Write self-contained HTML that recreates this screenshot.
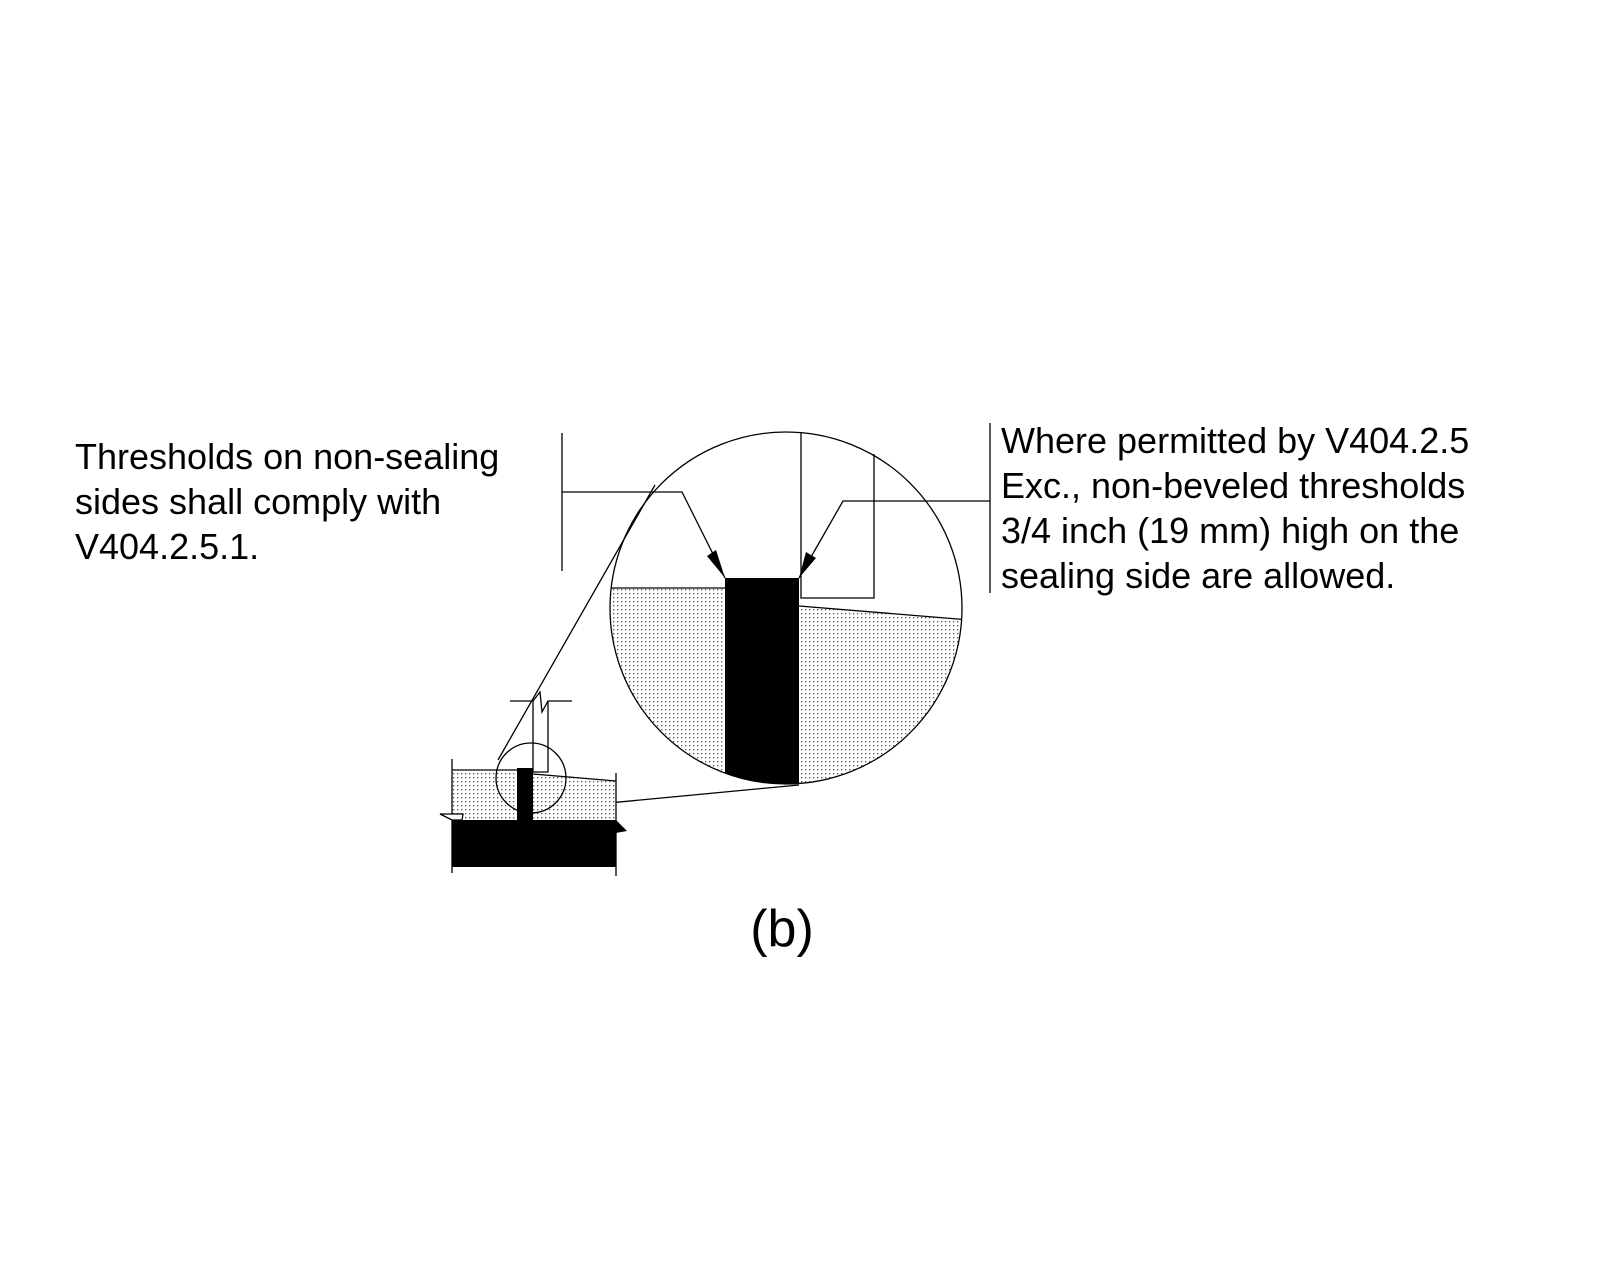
<!DOCTYPE html>
<html><head><style>
body{margin:0;background:#fff}
svg{display:block}
text{font-family:"Liberation Sans",Arial,sans-serif;fill:#000}
</style></head><body>
<svg width="1600" height="1280" viewBox="0 0 1600 1280">
<defs>
<pattern id="d" width="4" height="4" patternUnits="userSpaceOnUse"><rect width="4" height="4" fill="#fff"/><rect x="1" y="1" width="1.3" height="1.3" fill="#555"/></pattern>
<clipPath id="c"><circle cx="786" cy="608" r="176"/></clipPath>
</defs>
<g clip-path="url(#c)">
<rect x="600" y="588" width="125" height="210" fill="url(#d)"/>
<polygon points="799,606 970,620 970,800 799,800" fill="url(#d)"/>
<rect x="725" y="578" width="74" height="230" fill="#000"/>
<line x1="600" y1="588" x2="725" y2="588" stroke="#000" stroke-width="1.3"/>
<line x1="799" y1="606" x2="970" y2="620" stroke="#000" stroke-width="1.3"/>
</g>
<circle cx="786" cy="608" r="176" fill="none" stroke="#000" stroke-width="1.3"/>
<g stroke="#000" stroke-width="1.3" fill="none">
<polyline points="562,433 562,571"/>
<polyline points="562,492 682,492 725,578"/>
<polyline points="801,432 801,598 874,598 874,454"/>
<polyline points="990,501 843,501 799,578"/>
<line x1="990" y1="423" x2="990" y2="593"/>
<line x1="498" y1="760" x2="655" y2="485"/>
<line x1="535" y1="810" x2="799" y2="785"/>
</g>
<polygon points="725,578 707,556 716,550" fill="#000"/>
<polygon points="799,578 806,552 816,558" fill="#000"/>
<rect x="452" y="770" width="65" height="50" fill="url(#d)"/>
<polygon points="533,774 616,781 616,820 533,820" fill="url(#d)"/>
<g stroke="#000" stroke-width="1.3" fill="none">
<line x1="452" y1="770" x2="517" y2="770"/>
<line x1="533" y1="774" x2="616" y2="781"/>
<line x1="452" y1="759" x2="452" y2="873"/>
<line x1="616" y1="773" x2="616" y2="876"/>
<circle cx="531" cy="778" r="35"/>
<polyline points="510,701 533,701 533,772"/>
<polyline points="533,701 540,692 542,712 548,701 572,701"/>
<polyline points="548,701 548,772 533,772"/>
</g>
<rect x="452" y="820" width="164" height="47" fill="#000"/>
<rect x="517" y="768" width="16" height="54" fill="#000"/>
<polygon points="440,814 463,814 462,820 452,820" fill="#fff" stroke="#000" stroke-width="1.3"/>
<polygon points="616,820 627,831 610,834" fill="#000"/>
<text font-size="36"><tspan x="75" y="469">Thresholds on non-sealing</tspan><tspan x="75" y="514">sides shall comply with</tspan><tspan x="75" y="559">V404.2.5.1.</tspan></text>
<text font-size="36"><tspan x="1001" y="453">Where permitted by V404.2.5</tspan><tspan x="1001" y="498">Exc., non-beveled thresholds</tspan><tspan x="1001" y="543">3/4 inch (19 mm) high on the</tspan><tspan x="1001" y="588">sealing side are allowed.</tspan></text>
<text x="782" y="946" font-size="52" text-anchor="middle">(b)</text>
</svg>
</body></html>
